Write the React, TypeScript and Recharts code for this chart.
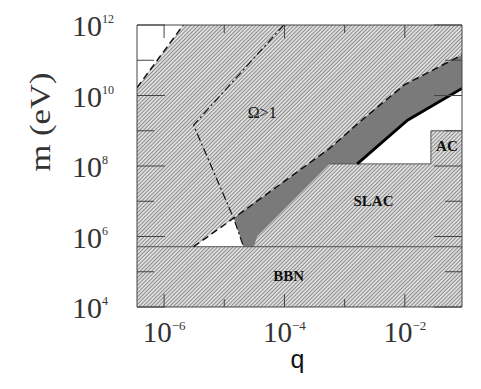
import { Area, ComposedChart, Label, Line, Scatter, XAxis, YAxis } from "recharts";

// everything is in log10 units: q on x, m (eV) on y
const Q_TICKS = [-6, -5, -4, -3, -2];
const M_TICKS = [4, 5, 6, 7, 8, 9, 10, 11, 12];
const Q_MIN = -6.45;
const Q_MAX = -1.05;
const M_MIN = 4;
const M_MAX = 12;

const BBN_TOP = 5.71;
const SLAC_TOP = 8.06;
const AC_TOP = 9.0;

const topLeftDashed = [
  { q: -6.45, m: 10.22 },
  { q: -5.68, m: 12 },
];
const omegaDashed = [
  { q: -5.51, m: 5.71 },
  { q: -4.845, m: 6.52 },
  { q: -3.25, m: 8.5 },
  { q: -2.68, m: 9.35 },
  { q: -2.01, m: 10.3 },
  { q: -1.05, m: 11.15 },
];
const omegaDashDot = [
  { q: -4.01, m: 12 },
  { q: -5.51, m: 9.16 },
  { q: -4.845, m: 6.52 },
  { q: -4.68, m: 5.71 },
];
const slacEdge = [
  { q: -4.51, m: 5.71 },
  { q: -4.455, m: 6.0 },
  { q: -3.25, m: 8.06 },
  { q: -2.79, m: 8.06 },
];
const solidBound = [
  { q: -2.79, m: 8.06 },
  { q: -1.955, m: 9.3 },
  { q: -1.05, m: 10.2 },
];
const acEdge = [
  { q: -1.567, m: SLAC_TOP },
  { q: -1.567, m: AC_TOP },
  { q: -1.05, m: AC_TOP },
];
const regionLabels = [
  { q: -4.37, m: 9.53, text: "Ω>1", bold: false },
  { q: -2.52, m: 7.01, text: "SLAC", bold: true },
  { q: -1.3, m: 8.57, text: "AC", bold: true },
  { q: -3.93, m: 4.88, text: "BBN", bold: true },
];

const SERIF = "'Liberation Serif', 'Times New Roman', serif";
const INK = "#333";
const FRAME = "#444";

const band = (pts: { q: number; m: number }[], lo: number) =>
  pts.map((p) => ({ q: p.q, r: [lo, p.m] }));

const fullPlot = [
  { q: Q_MIN, r: [M_MIN, M_MAX] },
  { q: Q_MAX, r: [M_MIN, M_MAX] },
];
const whiteTopLeft = topLeftDashed.map((p) => ({ q: p.q, r: [p.m, M_MAX] }));
const grayBand = band(omegaDashed.slice(1), BBN_TOP);
const slacHatch = band([...omegaDashDot.slice(2), ...slacEdge, ...solidBound.slice(1)], BBN_TOP);
const whiteGap = band(solidBound, SLAC_TOP);
const acHatch = band(acEdge.slice(1), SLAC_TOP);
const whiteNotch = band([omegaDashed[0], omegaDashed[1], omegaDashDot[3]], BBN_TOP);
const bbnLine = [
  { q: Q_MIN, m: BBN_TOP },
  { q: Q_MAX, m: BBN_TOP },
];
const slacOutline = [{ q: -3.25, m: SLAC_TOP }, ...acEdge];

function BottomTick({ x, y, payload }: any) {
  const v = payload.value;
  const major = v % 2 === 0;
  return (
    <g>
      <line x1={x} y1={y} x2={x} y2={y - (major ? 13 : 8)} stroke={FRAME} />
      {major && (
        <text x={x} y={y + 35} textAnchor="middle" fontFamily={SERIF} fontSize={29} fill={INK}>
          10
          <tspan dy={-12} fontSize={13}>
            {"−" + Math.abs(v)}
          </tspan>
        </text>
      )}
    </g>
  );
}

function TopTick({ x, y, payload }: any) {
  const major = payload.value % 2 === 0;
  return <line x1={x} y1={y} x2={x} y2={y + (major ? 13 : 8)} stroke={FRAME} />;
}

function LeftTick({ x, y, payload }: any) {
  const v = payload.value;
  const major = v % 2 === 0;
  return (
    <g>
      <line x1={x} y1={y} x2={x + (major ? 28 : 17)} y2={y} stroke={FRAME} />
      {major && (
        <text x={x - 65} y={y + 11} fontFamily={SERIF} fontSize={30} fill={INK}>
          10
          <tspan dy={-13} fontSize={12}>
            {v}
          </tspan>
        </text>
      )}
    </g>
  );
}

function RightTick({ x, y, payload }: any) {
  const major = payload.value % 2 === 0;
  return <line x1={x} y1={y} x2={x - (major ? 28 : 17)} y2={y} stroke={FRAME} />;
}

function RegionLabel({ cx, cy, payload }: any) {
  return (
    <text
      x={cx}
      y={cy}
      textAnchor="middle"
      dominantBaseline="central"
      fontFamily={SERIF}
      fontWeight={payload.bold ? 700 : 400}
      fontSize={payload.bold ? 15 : 16}
      fill="#111"
    >
      {payload.text}
    </text>
  );
}

function XTitle({ viewBox }: any) {
  return (
    <text
      x={viewBox.x + viewBox.width / 2 - 2}
      y={viewBox.y + 61}
      textAnchor="middle"
      fontFamily="'Liberation Sans', Arial, sans-serif"
      fontSize={25}
      fill="#111"
    >
      q
    </text>
  );
}

function YTitle({ viewBox }: any) {
  const cx = viewBox.x + viewBox.width - 97;
  const cy = viewBox.y + 97;
  return (
    <text
      x={cx}
      y={cy}
      transform={`rotate(-90, ${cx}, ${cy})`}
      textAnchor="middle"
      dominantBaseline="central"
      fontFamily={SERIF}
      fontSize={29}
      textLength={99}
      lengthAdjust="spacingAndGlyphs"
      fill={INK}
    >
      m (eV)
    </text>
  );
}

export default function App() {
  return (
    <ComposedChart width={473} height={381} margin={{ top: 16, right: 18, bottom: 81, left: 128 }}>
      <defs>
        <pattern id="hatch" patternUnits="userSpaceOnUse" width="2.7" height="2.7" patternTransform="rotate(45)">
          <rect width="2.7" height="2.7" fill="#e2e2e2" />
          <line x1="1.35" y1="0" x2="1.35" y2="2.7" stroke="#888" strokeWidth="1" />
        </pattern>
      </defs>

      <Area data={fullPlot} dataKey="r" type="linear" fill="url(#hatch)" fillOpacity={1} stroke="none" dot={false} activeDot={false} isAnimationActive={false} />
      <Area data={whiteTopLeft} dataKey="r" type="linear" fill="#fff" fillOpacity={1} stroke="none" dot={false} activeDot={false} isAnimationActive={false} />
      <Area data={grayBand} dataKey="r" type="linear" fill="#7a7a7a" fillOpacity={1} stroke="none" dot={false} activeDot={false} isAnimationActive={false} />
      <Area data={slacHatch} dataKey="r" type="linear" fill="url(#hatch)" fillOpacity={1} stroke="none" dot={false} activeDot={false} isAnimationActive={false} />
      <Area data={whiteGap} dataKey="r" type="linear" fill="#fff" fillOpacity={1} stroke="none" dot={false} activeDot={false} isAnimationActive={false} />
      <Area data={acHatch} dataKey="r" type="linear" fill="url(#hatch)" fillOpacity={1} stroke="none" dot={false} activeDot={false} isAnimationActive={false} />
      <Area data={whiteNotch} dataKey="r" type="linear" fill="#fff" fillOpacity={1} stroke="none" dot={false} activeDot={false} isAnimationActive={false} />

      <Line data={bbnLine} dataKey="m" type="linear" stroke="#555" strokeWidth={1} dot={false} activeDot={false} isAnimationActive={false} />
      <Line data={slacOutline} dataKey="m" type="linear" stroke="#555" strokeWidth={1} dot={false} activeDot={false} isAnimationActive={false} />
      <Line data={topLeftDashed} dataKey="m" type="linear" stroke="#111" strokeWidth={1.5} strokeDasharray="7 4" dot={false} activeDot={false} isAnimationActive={false} />
      <Line data={omegaDashed} dataKey="m" type="linear" stroke="#111" strokeWidth={1.5} strokeDasharray="7 4" dot={false} activeDot={false} isAnimationActive={false} />
      <Line data={omegaDashDot} dataKey="m" type="linear" stroke="#111" strokeWidth={1.2} strokeDasharray="8 3 2 3" dot={false} activeDot={false} isAnimationActive={false} />
      <Line data={solidBound} dataKey="m" type="linear" stroke="#000" strokeWidth={2.8} dot={false} activeDot={false} isAnimationActive={false} />

      <Scatter data={regionLabels} dataKey="m" shape={RegionLabel} isAnimationActive={false} />

      <XAxis
        dataKey="q"
        type="number"
        domain={[Q_MIN, Q_MAX]}
        allowDataOverflow
        ticks={Q_TICKS}
        interval={0}
        height={1}
        tickSize={0}
        tickMargin={0}
        tickLine={false}
        axisLine={{ stroke: FRAME }}
        tick={BottomTick}
        label={<Label content={XTitle} />}
      />
      <XAxis
        xAxisId="top"
        orientation="top"
        dataKey="q"
        type="number"
        domain={[Q_MIN, Q_MAX]}
        allowDataOverflow
        ticks={Q_TICKS}
        interval={0}
        height={1}
        tickSize={0}
        tickMargin={0}
        tickLine={false}
        axisLine={{ stroke: FRAME }}
        tick={TopTick}
      />
      <YAxis
        type="number"
        domain={[M_MIN, M_MAX]}
        allowDataOverflow
        ticks={M_TICKS}
        interval={0}
        width={1}
        tickSize={0}
        tickMargin={0}
        tickLine={false}
        axisLine={{ stroke: FRAME }}
        tick={LeftTick}
        label={<Label content={YTitle} />}
      />
      <YAxis
        yAxisId="right"
        orientation="right"
        type="number"
        domain={[M_MIN, M_MAX]}
        allowDataOverflow
        ticks={M_TICKS}
        interval={0}
        width={1}
        tickSize={0}
        tickMargin={0}
        tickLine={false}
        axisLine={{ stroke: FRAME }}
        tick={RightTick}
      />
    </ComposedChart>
  );
}
